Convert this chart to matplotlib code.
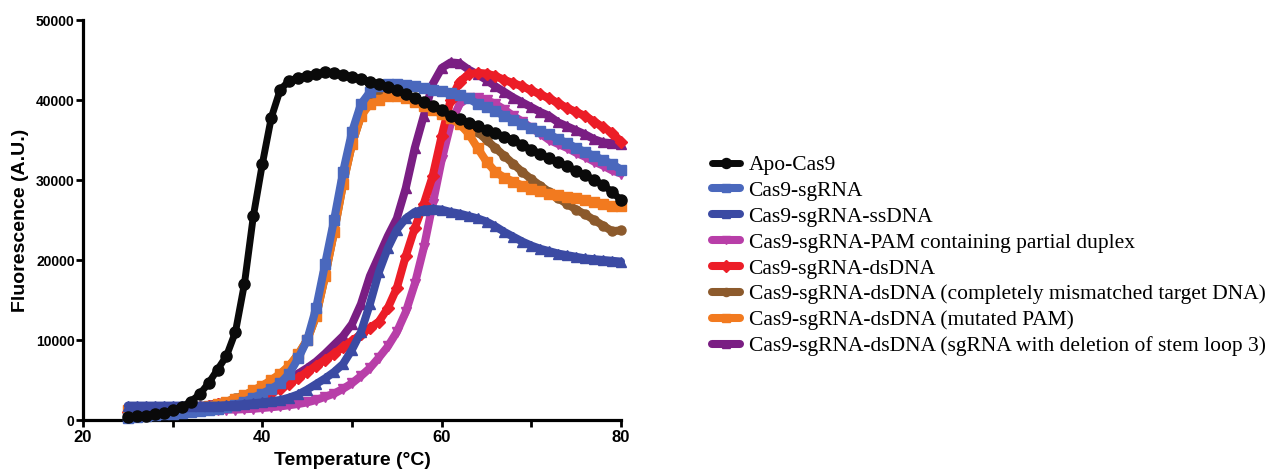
import matplotlib
matplotlib.use("Agg")
import matplotlib.pyplot as plt
import numpy as np

temperature = list(range(25, 81))

apo_cas9 = [400, 450, 550, 700, 900, 1200, 1600, 2300, 3200, 4600,
            6300, 8000, 11000, 17000, 25500, 32000, 37800, 41300, 42400, 42800,
            43000, 43200, 43500, 43400, 43100, 42900, 42600, 42300, 42000, 41600,
            41200, 40700, 40200, 39700, 39200, 38700, 38000, 37600, 37100, 36700,
            36300, 35900, 35400, 35000, 34400, 33800, 33300, 32700, 32200, 31700,
            31100, 30600, 30000, 29400, 28500, 27500]

cas9_sgrna = [300, 400, 500, 600, 700, 800, 900, 1000, 1100, 1250,
              1400, 1600, 1900, 2300, 2800, 3300, 3900, 4600, 5800, 7700,
              10000, 14000, 19500, 25000, 31000, 36000, 39500, 41000, 41800, 42000,
              42000, 41900, 41700, 41500, 41300, 41100, 40900, 40600, 40200, 39500,
              39100, 38600, 38000, 37500, 37000, 36500, 36100, 35700, 35100, 34600,
              34000, 33500, 33000, 32500, 32000, 31300]

cas9_sgrna_ssdna = [1800, 1800, 1800, 1800, 1800, 1800, 1800, 1800, 1800, 1800,
                    1800, 1850, 1900, 2000, 2100, 2200, 2350, 2500, 2800, 3200,
                    3800, 4500, 5200, 6000, 7000, 8800, 11000, 14500, 18500, 21500,
                    23800, 25200, 26000, 26300, 26400, 26300, 26000, 25800, 25500, 25200,
                    24800, 24200, 23500, 22900, 22300, 21800, 21400, 21100, 20800, 20600,
                    20400, 20200, 20100, 20000, 19900, 19800]

cas9_sgrna_pam = [1000, 1000, 1000, 1050, 1050, 1100, 1100, 1150, 1200, 1200,
                  1250, 1300, 1300, 1350, 1400, 1500, 1600, 1700, 1850, 2000,
                  2200, 2500, 2900, 3300, 3900, 4600, 5500, 6500, 7800, 9200,
                  11000, 13500, 17000, 21500, 27000, 32500, 37000, 39500, 40300, 40300,
                  40000, 39500, 38800, 38000, 37300, 36500, 35800, 35000, 34500, 34000,
                  33400, 32900, 32300, 31800, 31200, 30800]

cas9_sgrna_dsdna = [1000, 1050, 1100, 1150, 1200, 1300, 1400, 1500, 1650, 1800,
                    1950, 2100, 2300, 2500, 2800, 3000, 3400, 3900, 4500, 5300,
                    6000, 6800, 7500, 8300, 9100, 9900, 10700, 11500, 12300, 14000,
                    16500, 20500, 24000, 27000, 30500, 35500, 40000, 42300, 43200, 43400,
                    43300, 43000, 42500, 42100, 41700, 41200, 40700, 40200, 39600, 39000,
                    38500, 38000, 37300, 36600, 35900, 34800]

cas9_sgrna_mismatch = [1100, 1100, 1150, 1200, 1250, 1300, 1400, 1500, 1650, 1800,
                       2000, 2300, 2700, 3100, 3600, 4200, 4900, 5700, 6700, 8200,
                       10000, 13000, 18000, 23500, 29500, 34500, 38000, 39900, 40600, 40900,
                       40800, 40500, 40100, 39700, 39200, 38700, 38100, 37400, 36700, 36000,
                       35000, 34000, 33000, 32000, 31000, 30100, 29300, 28500, 27700, 27000,
                       26300, 25700, 25000, 24300, 23600, 23700]

cas9_sgrna_mutpam = [1200, 1200, 1200, 1250, 1300, 1350, 1400, 1500, 1650, 1800,
                     2000, 2300, 2600, 3100, 3700, 4300, 5000, 5800, 6800, 8200,
                     10000, 13000, 18000, 23500, 29500, 34500, 38000, 39500, 40000, 40500,
                     40500, 40200, 39800, 39300, 38800, 38200, 37700, 37000, 35800, 34000,
                     32300, 31000, 30300, 29800, 29300, 28900, 28600, 28300, 28100, 27900,
                     27700, 27500, 27300, 27000, 26700, 26800]

cas9_sgrna_sl3 = [1000, 1050, 1100, 1150, 1200, 1300, 1400, 1550, 1700, 1900,
                  2100, 2300, 2500, 2800, 3100, 3500, 4000, 4600, 5200, 5800,
                  6500, 7300, 8300, 9400, 10500, 12000, 14500, 18000, 20500, 23000,
                  25200, 29000, 34000, 38000, 42000, 44000, 44700, 44600, 43800, 43200,
                  42500, 41700, 41000, 40300, 39700, 39100, 38500, 38000, 37200, 36700,
                  36200, 35700, 35100, 34700, 34600, 34500]

labels = ["Apo-Cas9",
          "Cas9-sgRNA",
          "Cas9-sgRNA-ssDNA",
          "Cas9-sgRNA-PAM containing partial duplex",
          "Cas9-sgRNA-dsDNA",
          "Cas9-sgRNA-dsDNA (completely mismatched target DNA)",
          "Cas9-sgRNA-dsDNA (mutated PAM)",
          "Cas9-sgRNA-dsDNA (sgRNA with deletion of stem loop 3)"]

series = [apo_cas9, cas9_sgrna, cas9_sgrna_ssdna, cas9_sgrna_pam,
          cas9_sgrna_dsdna, cas9_sgrna_mismatch, cas9_sgrna_mutpam, cas9_sgrna_sl3]
colors = ["#0a0a0a", "#4a68bd", "#3b4aa3", "#b83ea8",
          "#ec1d27", "#8c5a2c", "#f27a1f", "#7a1e83"]
markers = ["o", "s", "^", "v", "D", "o", "s", "^"]
zorders = [10, 8, 9, 3, 5, 6, 7, 4]

fig = plt.figure(figsize=(12.69, 4.70), dpi=100)
ax = fig.add_axes([83/1269, 50/470, (621-83)/1269, 400/470])

handles = []
for i, (y, lab, c, m, z) in enumerate(zip(series, labels, colors, markers, zorders)):
    if i == 0:
        lw, ms = 5.0, 8.0
    else:
        lw, ms = 5.8, 6.5
    h, = ax.plot(temperature, y, color=c, marker=m, markersize=ms, lw=lw,
                 markeredgecolor=c, label=lab, zorder=z, solid_capstyle="round",
                 solid_joinstyle="round", clip_on=False)
    handles.append(h)

ax.set_xlim(20, 80)
ax.set_ylim(0, 50000)
ax.set_xticks([20, 40, 60, 80])
ax.set_xticks([30, 50, 70], minor=True)
ax.set_yticks([0, 10000, 20000, 30000, 40000, 50000])
for s in ["top", "right"]:
    ax.spines[s].set_visible(False)
for s in ["left", "bottom"]:
    ax.spines[s].set_linewidth(2.3)
ax.tick_params(axis="both", which="both", width=2.0, length=5, direction="out")
ax.tick_params(axis="x", which="minor", length=5)
for lab in ax.get_xticklabels() + ax.get_yticklabels():
    lab.set_fontweight("bold")
    lab.set_fontfamily("Liberation Sans")
ax.tick_params(axis="x", labelsize=12, pad=2)
ax.tick_params(axis="y", labelsize=10, pad=1)
ax.set_xlabel("Temperature (°C)", fontsize=14, fontweight="bold",
              fontfamily="Liberation Sans", labelpad=5)
ax.set_ylabel("Fluorescence (A.U.)", fontsize=14, fontweight="bold",
              fontfamily="Liberation Sans", labelpad=5)

fig.legend(handles=handles, labels=labels, loc="upper left",
           bbox_to_anchor=(712/1269, 1 - 155/470), frameon=False,
           prop={"family": "Liberation Serif", "size": 15.5},
           handlelength=1.3, handletextpad=0.4, labelspacing=0.27,
           borderaxespad=0, borderpad=0, markerscale=0.9)

fig.savefig("out.png", dpi=100)
